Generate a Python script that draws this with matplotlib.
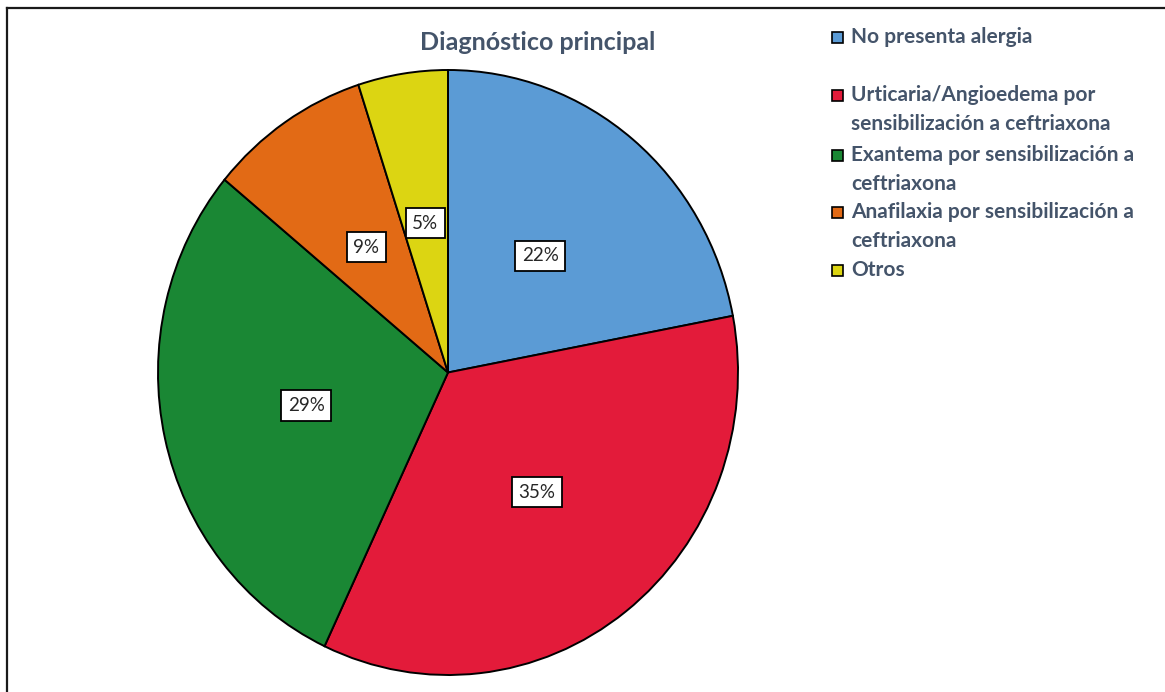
import matplotlib
matplotlib.use("Agg")
import matplotlib.pyplot as plt
from matplotlib.patches import Rectangle
from matplotlib.lines import Line2D

title = "Diagnóstico principal"
categories = [
    "No presenta alergia",
    "Urticaria/Angioedema por\nsensibilización a ceftriaxona",
    "Exantema por sensibilización a\nceftriaxona",
    "Anafilaxia por sensibilización a\nceftriaxona",
    "Otros",
]
percentages = [22, 35, 29, 9, 5]
colors = ["#5B9BD5", "#E31B3A", "#1A8734", "#E26A15", "#DCD512"]

W, H = 1165, 692
fig = plt.figure(figsize=(W / 100, H / 100), dpi=100)
fig.patch.set_facecolor("white")

plt.rcParams["font.family"] = ["Lato", "DejaVu Sans"]
text_color = "#44546A"

# pie area (slightly taller than wide)
left, right, top, bottom = 158, 738, 70, 675
ax = fig.add_axes([left / W, (H - bottom) / H, (right - left) / W, (bottom - top) / H])

wedges, texts, autotexts = ax.pie(
    percentages,
    colors=colors,
    startangle=90,
    counterclock=False,
    autopct=lambda p: f"{p:.0f}%",
    pctdistance=0.5,
    wedgeprops=dict(edgecolor="black", linewidth=1.4),
    textprops=dict(fontsize=13.5, color="#262626"),
)
for t in autotexts:
    t.set_bbox(dict(boxstyle="square,pad=0.35", facecolor="white", edgecolor="black", linewidth=1.3))
ax.set_aspect("auto")
ax.set_xlim(-1.0, 1.0)
ax.set_ylim(-1.0, 1.0)
ax.axis("off")

# title
fig.text(538 / W, 1 - 42 / H, title, ha="center", va="center",
         fontsize=18, fontweight="bold", color=text_color)

# legend entries
first_line_y = [37, 95, 155, 212, 270]
line_gap = 29
sq = 11
for label, color, y in zip(categories, colors, first_line_y):
    fig.patches.append(Rectangle((832 / W, 1 - (y + sq / 2) / H), sq / W, sq / H,
                                 transform=fig.transFigure, facecolor=color,
                                 edgecolor="black", linewidth=1.2))
    for i, line in enumerate(label.split("\n")):
        fig.text(851 / W, 1 - (y + i * line_gap) / H, line, ha="left", va="center",
                 fontsize=15, fontweight="bold", color=text_color)

# outer frame (top and left edges visible)
fig.add_artist(Line2D([7 / W, 7 / W], [0, 1 - 8 / H], transform=fig.transFigure,
                      color="#1a1a1a", linewidth=1.6))
fig.add_artist(Line2D([7 / W, 1], [1 - 8 / H, 1 - 8 / H], transform=fig.transFigure,
                      color="#1a1a1a", linewidth=1.6))

fig.savefig("out.png", dpi=100, facecolor="white")
